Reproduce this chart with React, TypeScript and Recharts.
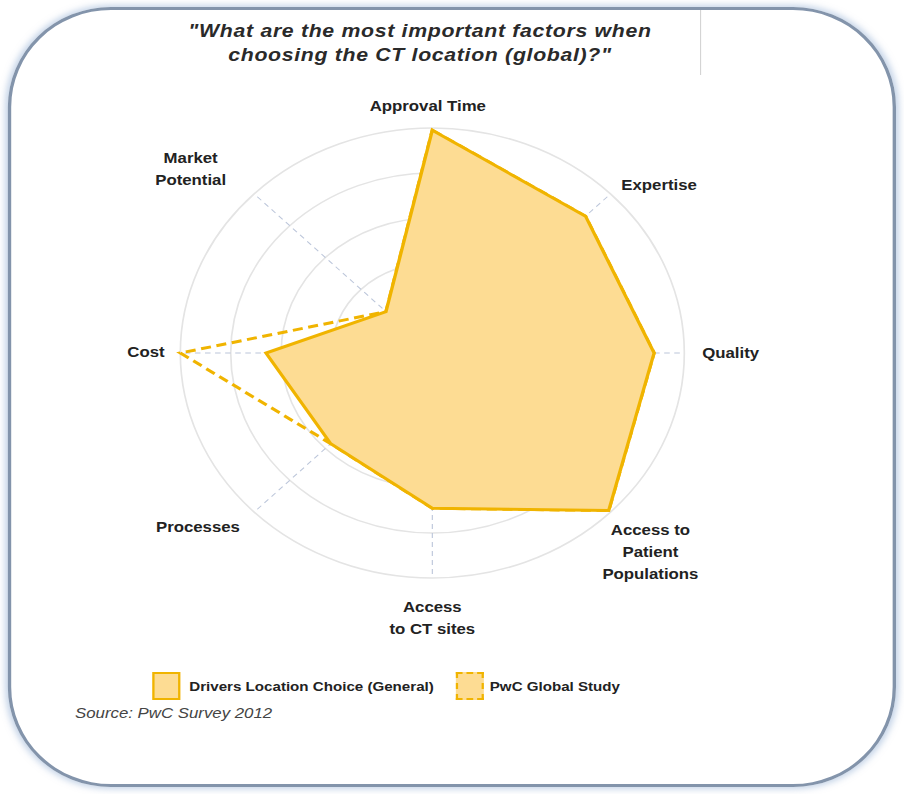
import { RadarChart, Radar, PolarGrid, PolarAngleAxis, PolarRadiusAxis } from 'recharts';

const factors = [
  'Approval Time',
  'Expertise',
  'Quality',
  'Access to Patient Populations',
  'Access to CT sites',
  'Processes',
  'Cost',
  'Market Potential',
];
const generalScores = [4.95, 4.3, 4.4, 4.95, 3.45, 2.85, 3.3, 1.3];
const pwcScores = [4.95, 4.3, 4.4, 4.95, 3.45, 2.85, 5.0, 1.3];
const seriesNames = ['Drivers Location Choice (General)', 'PwC Global Study'];

const data = factors.map((f, i) => ({ factor: f, general: generalScores[i], pwc: pwcScores[i] }));

// the source picture is stretched sideways, so the whole thing is drawn narrow and scaled in x
const STRETCH = 1.12;

// label lines + placement relative to the tick point
const labelLayout: Record<string, { lines: string[]; anchor: string; dx: number; dy: number }> = {
  'Approval Time': { lines: ['Approval Time'], anchor: 'middle', dx: -4, dy: -9 },
  'Expertise': { lines: ['Expertise'], anchor: 'start', dx: 4, dy: 2 },
  'Quality': { lines: ['Quality'], anchor: 'start', dx: 8, dy: 5 },
  'Access to Patient Populations': { lines: ['Access to', 'Patient', 'Populations'], anchor: 'middle', dx: 30, dy: 17 },
  'Access to CT sites': { lines: ['Access', 'to CT sites'], anchor: 'middle', dx: 0, dy: 26 },
  'Processes': { lines: ['Processes'], anchor: 'end', dx: -7, dy: 14 },
  'Cost': { lines: ['Cost'], anchor: 'end', dx: -6, dy: 4 },
  'Market Potential': { lines: ['Market', 'Potential'], anchor: 'middle', dx: -51, dy: -25 },
};

const FactorTick = ({ x, y, payload }: any) => {
  const lay = labelLayout[payload.value];
  return (
    <text
      x={x + lay.dx}
      y={y + lay.dy}
      textAnchor={lay.anchor}
      fontFamily="Liberation Sans, Arial, sans-serif"
      fontWeight="bold"
      fontSize={15}
      fill="#222"
    >
      {lay.lines.map((l, i) => (
        <tspan key={i} x={x + lay.dx} dy={i === 0 ? 0 : 22}>
          {l}
        </tspan>
      ))}
    </text>
  );
};

export default function App() {
  return (
    <div style={{ position: 'absolute', left: 0, top: 0, width: 904, height: 794, background: '#fff', overflow: 'hidden' }}>
      <div
        style={{
          position: 'absolute', left: 0, top: 0, width: 807, height: 794,
          transform: `scaleX(${STRETCH})`, transformOrigin: '0 0',
          fontFamily: 'Liberation Sans, Arial, sans-serif',
        }}
      >
        <div
          style={{
            position: 'absolute', left: 7, top: 7, width: 787, height: 774,
            border: '3px solid #8394ab', borderRadius: '92px / 100px',
            boxShadow: '0 0 6px 2px rgba(140,170,210,0.5)',
          }}
        />
        <div style={{ position: 'absolute', left: 625, top: 10, width: 1, height: 65, background: '#d4d4d4' }} />
        <div
          style={{
            position: 'absolute', left: 125, top: 19, width: 500, textAlign: 'center',
            fontStyle: 'italic', fontWeight: 'bold', fontSize: 19, letterSpacing: 0.6, lineHeight: '24px', color: '#2a2a2a',
          }}
        >
          "What are the most important factors when<br />choosing the CT location (global)?"
        </div>

        <div style={{ position: 'absolute', left: 0, top: 0 }}>
          <RadarChart width={807} height={794} data={data} cx={386} cy={353} outerRadius={225}>
            <PolarGrid gridType="circle" stroke="#e4e4e4" strokeWidth={1.5} radialLines={false} polarRadius={[45, 90, 135, 180, 225]} />
            <PolarGrid gridType="circle" stroke="#bcc6da" strokeWidth={1} strokeDasharray="5 4" radialLines={true} polarRadius={[0]} />
            <PolarAngleAxis dataKey="factor" tick={<FactorTick />} axisLine={false} tickLine={false} />
            <PolarRadiusAxis domain={[0, 5]} tickCount={6} tick={false} axisLine={false} />
            <Radar
              name={seriesNames[1]}
              dataKey="pwc"
              stroke="#f0b400"
              strokeWidth={3}
              strokeDasharray="9 5"
              fill="none"
              fillOpacity={0}
              isAnimationActive={false}
            />
            <Radar
              name={seriesNames[0]}
              dataKey="general"
              stroke="#f0b400"
              strokeWidth={3}
              fill="#fddc93"
              fillOpacity={1}
              isAnimationActive={false}
            />
          </RadarChart>
        </div>

        <div style={{ position: 'absolute', left: 136, top: 672, display: 'flex', alignItems: 'center', fontWeight: 'bold', fontSize: 13.5, color: '#222' }}>
          <div style={{ width: 25, height: 28, background: '#fddc93', border: '2px solid #f0b400', boxSizing: 'border-box', marginRight: 8 }} />
          <span>{seriesNames[0]}</span>
          <div style={{ width: 25, height: 28, background: '#fddc93', border: '2px dashed #f0b400', boxSizing: 'border-box', marginLeft: 20, marginRight: 5 }} />
          <span>{seriesNames[1]}</span>
        </div>
        <div style={{ position: 'absolute', left: 67, top: 704, fontStyle: 'italic', fontSize: 15, color: '#444' }}>
          Source: PwC Survey 2012
        </div>
      </div>
    </div>
  );
}
